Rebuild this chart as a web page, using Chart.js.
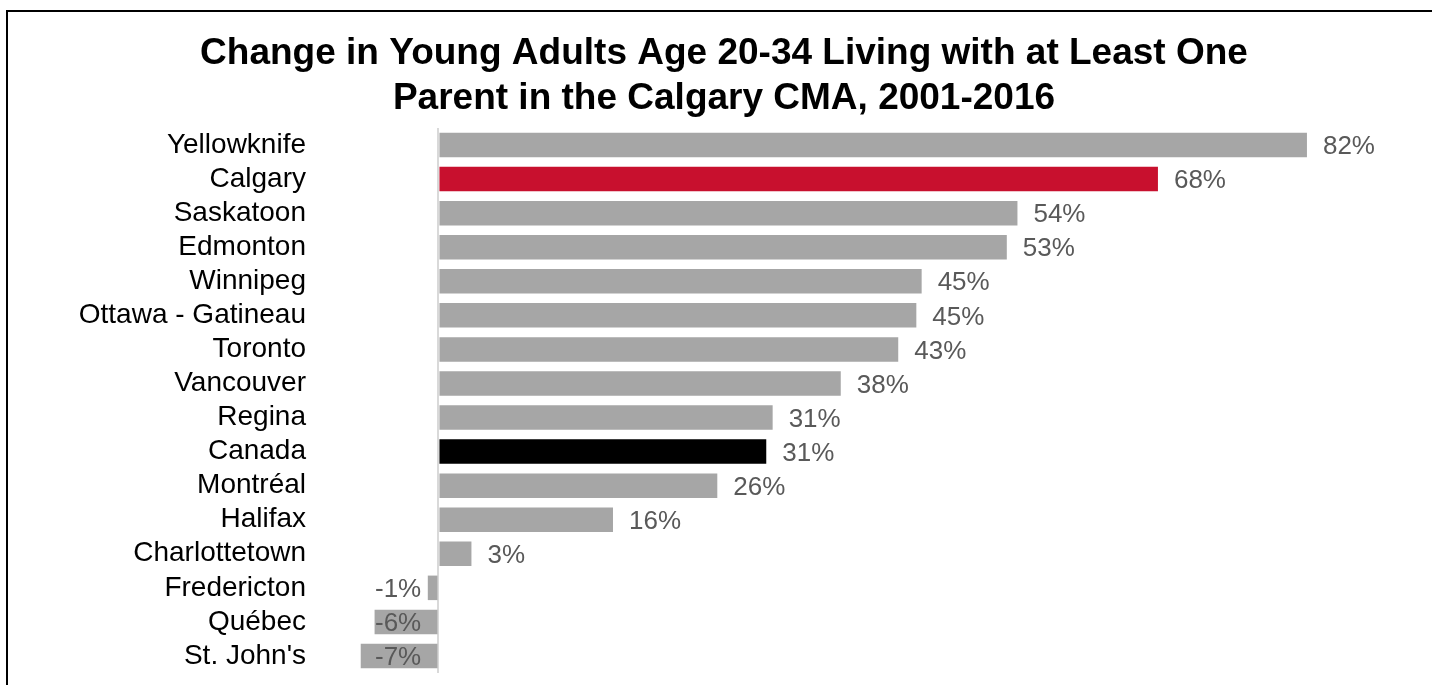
<!DOCTYPE html>
<html>
<head>
<meta charset="utf-8">
<script src="https://cdn.jsdelivr.net/npm/chart.js@4"></script>
<style>
  html, body { margin: 0; padding: 0; background: #fff; overflow: hidden; }
  body { width: 1432px; height: 685px; position: relative; }
  #frame { position: absolute; left: 6px; top: 10px; width: 2000px; height: 2000px; border: 2px solid #000; }
  #wrap { position: absolute; left: 8px; top: 0; width: 1432px; height: 685px; }
</style>
</head>
<body>
<div id="frame"></div>
<div id="wrap"><canvas id="chart"></canvas></div>
<script>
// --- Data ---
const cities = ['Yellowknife', 'Calgary', 'Saskatoon', 'Edmonton', 'Winnipeg', 'Ottawa - Gatineau',
    'Toronto', 'Vancouver', 'Regina', 'Canada', 'Montréal', 'Halifax', 'Charlottetown',
    'Fredericton', 'Québec', "St. John's"];
const change = [81.6, 67.6, 54.4, 53.4, 45.4, 44.9, 43.2, 37.8, 31.4, 30.8, 26.2, 16.4, 3.1, -1.0, -6.0, -7.3];
const titleLines = ['Change in Young Adults Age 20-34 Living with at Least One',
    'Parent in the Calgary CMA, 2001-2016'];

const GRAY = '#a6a6a6';
const barColors = cities.map(c => c === 'Calgary' ? '#c8102e' : (c === 'Canada' ? '#000000' : GRAY));

// --- Value labels (Excel style: outside end, kept inside the plot) ---
const valueLabels = {
    id: 'valueLabels',
    afterDatasetsDraw(chart) {
        const ctx = chart.ctx;
        const meta = chart.getDatasetMeta(0);
        const area = chart.chartArea;
        ctx.save();
        ctx.font = '26px "Liberation Sans", Arial, sans-serif';
        ctx.fillStyle = '#595959';
        ctx.textBaseline = 'middle';
        ctx.textAlign = 'left';
        meta.data.forEach((bar, i) => {
            const v = change[i];
            const txt = Math.round(v) + '%';
            const y = bar.y + 2;
            if (v >= 0) {
                ctx.fillText(txt, bar.x + 16, y);
            } else {
                const w = ctx.measureText(txt).width;
                let left = bar.x - 17 - w;
                if (left < area.left + 43) left = area.left + 43;
                ctx.fillText(txt, left, y);
            }
        });
        ctx.restore();
    }
};

const ctx = document.getElementById('chart').getContext('2d');
new Chart(ctx, {
    type: 'bar',
    data: {
        labels: cities,
        datasets: [{
            data: change,
            backgroundColor: barColors,
            borderWidth: 0,
            barPercentage: 0.72,
            categoryPercentage: 1.0
        }]
    },
    plugins: [valueLabels],
    options: {
        indexAxis: 'y',
        responsive: true,
        maintainAspectRatio: false,
        animation: false,
        layout: { padding: { left: 0, right: 0, top: 0, bottom: 12 } },
        plugins: {
            legend: { display: false },
            tooltip: { enabled: false },
            title: {
                display: true,
                text: titleLines,
                color: '#000',
                font: { family: '"Liberation Sans", Arial, sans-serif', size: 37, weight: 'bold', lineHeight: 1.216 },
                padding: { top: 31, bottom: 7 }
            }
        },
        scales: {
            x: {
                min: -10,
                max: 94.1,
                afterFit(scale) { scale.height = 0; },
                ticks: { display: false, stepSize: 10 },
                border: { display: false },
                grid: {
                    drawTicks: false,
                    lineWidth: 2,
                    color: c => c.tick && c.tick.value === 0 ? '#d9d9d9' : 'rgba(0,0,0,0)'
                }
            },
            y: {
                afterFit(scale) {
                    scale.width = 324;
                    scale.paddingTop = 0;
                    scale.paddingBottom = 0;
                },
                border: { display: false },
                grid: { display: false, drawTicks: false },
                ticks: {
                    autoSkip: false,
                    color: '#000',
                    padding: 26,
                    font: { family: '"Liberation Sans", Arial, sans-serif', size: 28 }
                }
            }
        }
    }
});
</script>
</body>
</html>
